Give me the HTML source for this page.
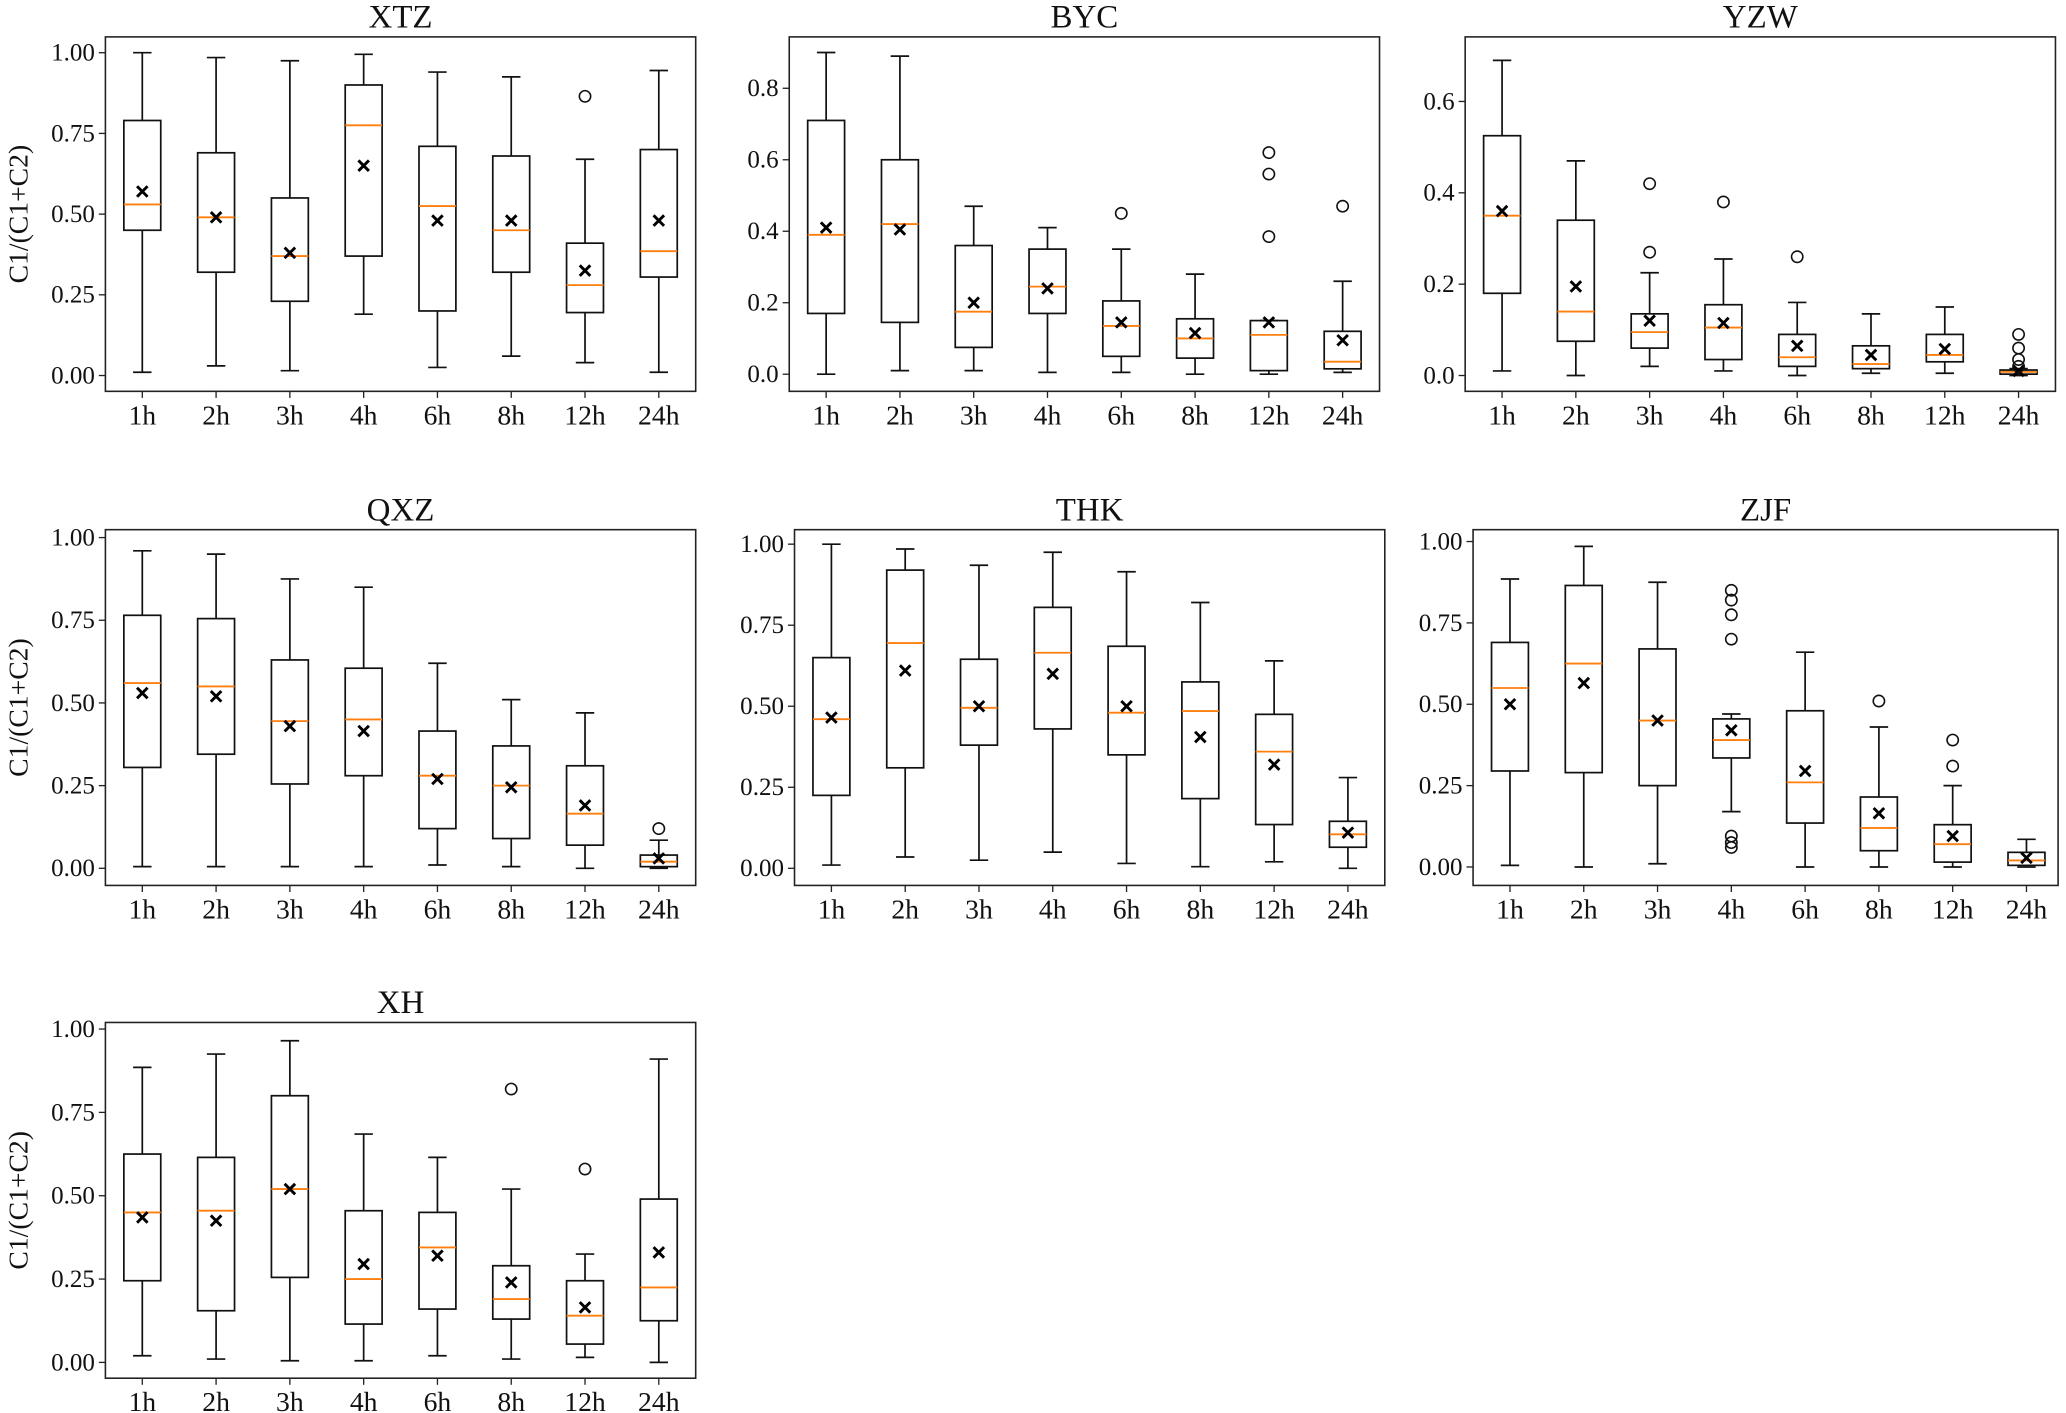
<!DOCTYPE html>
<html><head><meta charset="utf-8"><style>
html,body{margin:0;padding:0;background:#fff}
svg{display:block}
svg text{font-family:"Liberation Serif","DejaVu Serif",serif !important;fill:#111}
</style></head><body>
<svg id="fig" width="2066" height="1413" viewBox="0 0 1568 1072.4" preserveAspectRatio="none" xmlns="http://www.w3.org/2000/svg"></svg>
<script>
// categories
const categories = ["1h","2h","3h","4h","6h","8h","12h","24h"];
// stats per category: [whiskerLow, q1, median, q3, whiskerHigh, mean]
const xtzStats = [[0.01,0.45,0.53,0.79,1.00,0.57],[0.03,0.32,0.49,0.69,0.985,0.49],[0.015,0.23,0.37,0.55,0.975,0.38],[0.19,0.37,0.775,0.90,0.995,0.65],[0.025,0.20,0.525,0.71,0.94,0.48],[0.06,0.32,0.45,0.68,0.925,0.48],[0.04,0.195,0.28,0.41,0.67,0.325],[0.01,0.305,0.385,0.70,0.945,0.48]];
const xtzOutliers = [[],[],[],[],[],[],[0.865],[]];
const bycStats = [[0.0,0.17,0.39,0.71,0.90,0.41],[0.01,0.145,0.42,0.60,0.89,0.405],[0.01,0.075,0.175,0.36,0.47,0.20],[0.005,0.17,0.245,0.35,0.41,0.24],[0.005,0.05,0.135,0.205,0.35,0.145],[0.0,0.045,0.1,0.155,0.28,0.115],[0.0,0.01,0.11,0.15,0.15,0.145],[0.005,0.015,0.035,0.12,0.26,0.095]];
const bycOutliers = [[],[],[],[],[0.45],[],[0.385,0.56,0.62],[0.47]];
const yzwStats = [[0.01,0.18,0.35,0.525,0.69,0.36],[0.0,0.075,0.14,0.34,0.47,0.195],[0.02,0.06,0.095,0.135,0.225,0.12],[0.01,0.035,0.105,0.155,0.255,0.115],[0.0,0.02,0.04,0.09,0.16,0.065],[0.005,0.015,0.025,0.065,0.135,0.045],[0.005,0.03,0.045,0.09,0.15,0.058],[0.0,0.003,0.008,0.012,0.015,0.01]];
const yzwOutliers = [[],[],[0.27,0.42],[0.38],[0.26],[],[],[0.02,0.035,0.06,0.09]];
const qxzStats = [[0.005,0.305,0.56,0.765,0.96,0.53],[0.005,0.345,0.55,0.755,0.95,0.52],[0.005,0.255,0.445,0.63,0.875,0.43],[0.005,0.28,0.45,0.605,0.85,0.415],[0.01,0.12,0.28,0.415,0.62,0.27],[0.005,0.09,0.25,0.37,0.51,0.245],[0.0,0.07,0.165,0.31,0.47,0.19],[0.0,0.005,0.02,0.04,0.085,0.03]];
const qxzOutliers = [[],[],[],[],[],[],[],[0.12]];
const thkStats = [[0.01,0.225,0.46,0.65,1.0,0.465],[0.035,0.31,0.695,0.92,0.985,0.61],[0.025,0.38,0.495,0.645,0.935,0.50],[0.05,0.43,0.665,0.805,0.975,0.60],[0.015,0.35,0.48,0.685,0.915,0.50],[0.005,0.215,0.485,0.575,0.82,0.405],[0.02,0.135,0.36,0.475,0.64,0.32],[0.0,0.065,0.105,0.145,0.28,0.11]];
const thkOutliers = [[],[],[],[],[],[],[],[]];
const zjfStats = [[0.005,0.295,0.55,0.69,0.885,0.50],[0.0,0.29,0.625,0.865,0.985,0.565],[0.01,0.25,0.45,0.67,0.875,0.45],[0.17,0.335,0.39,0.455,0.47,0.42],[0.0,0.135,0.26,0.48,0.66,0.295],[0.0,0.05,0.12,0.215,0.43,0.165],[0.0,0.015,0.07,0.13,0.25,0.095],[0.0,0.005,0.02,0.045,0.085,0.028]];
const zjfOutliers = [[],[],[],[0.06,0.075,0.095,0.70,0.775,0.82,0.85],[],[0.51],[0.31,0.39],[]];
const xhStats = [[0.02,0.245,0.45,0.625,0.885,0.435],[0.01,0.155,0.455,0.615,0.925,0.425],[0.005,0.255,0.52,0.80,0.965,0.52],[0.005,0.115,0.25,0.455,0.685,0.295],[0.02,0.16,0.345,0.45,0.615,0.32],[0.01,0.13,0.19,0.29,0.52,0.24],[0.015,0.055,0.14,0.245,0.325,0.165],[0.0,0.125,0.225,0.49,0.91,0.33]];
const xhOutliers = [[],[],[],[],[],[0.82],[0.58],[]];
// tick labels
const ticks100 = ["0.00","0.25","0.50","0.75","1.00"];
const ticks08 = ["0.0","0.2","0.4","0.6","0.8"];
const ticks06 = ["0.0","0.2","0.4","0.6"];

const NS="http://www.w3.org/2000/svg";
const svg=document.getElementById('fig');
const FONT='"Liberation Serif", serif';
function mk(tag,attrs,parent){const e=document.createElementNS(NS,tag);for(const k in attrs)e.setAttribute(k,attrs[k]);if(tag==='text')e.setAttribute('font-family',FONT);(parent||svg).appendChild(e);return e;}

const panels=[
 {key:"xtz",title:"XTZ",stats:xtzStats,out:xtzOutliers,ticks:ticks100,ax:[80,28,528,297],x0:108,y0:285,y1:40,v1:1.0,ylab:true},
 {key:"byc",title:"BYC",stats:bycStats,out:bycOutliers,ticks:ticks08,ax:[599,28,1047,297],x0:627,y0:284,y1:67,v1:0.8},
 {key:"yzw",title:"YZW",stats:yzwStats,out:yzwOutliers,ticks:ticks06,ax:[1112,28,1560,297],x0:1140,y0:285,y1:77,v1:0.6},
 {key:"qxz",title:"QXZ",stats:qxzStats,out:qxzOutliers,ticks:ticks100,ax:[80,402,528,672],x0:108,y0:659,y1:408,v1:1.0,ylab:true},
 {key:"thk",title:"THK",stats:thkStats,out:thkOutliers,ticks:ticks100,ax:[603,402,1051,672],x0:631,y0:659,y1:413,v1:1.0},
 {key:"zjf",title:"ZJF",stats:zjfStats,out:zjfOutliers,ticks:ticks100,ax:[1118,402,1562,672],x0:1146,y0:658,y1:411,v1:1.0},
 {key:"xh",title:"XH",stats:xhStats,out:xhOutliers,ticks:ticks100,ax:[80,776,528,1046],x0:108,y0:1034,y1:781,v1:1.0,ylab:true}
];

panels.forEach(p=>{
  const g=mk('g',{});
  
  
  const [L,T,R,B]=p.ax;
  const yS=v=>p.y0-(v/p.v1)*(p.y0-p.y1);
  const xS=i=>p.x0+i*56;
  const t=mk('text',{x:(L+R)/2,y:T-7,'text-anchor':'middle','font-size':25},g);
  t.textContent=p.title;
  
  
  const frame=mk('rect',{x:L,y:T,width:R-L,height:B-T,fill:'none',stroke:'#222','stroke-width':1.2},g);
  
  
  const n=p.ticks.length;
  p.ticks.forEach((lab,k)=>{
    const v=p.v1*k/(n-1);
    const y=yS(v);
    mk('line',{x1:L-5,x2:L,y1:y,y2:y,stroke:'#222','stroke-width':1},g);
    const tl=mk('text',{x:L-8,y:y+6,'text-anchor':'end','font-size':19},g);
    tl.textContent=lab;
    
    
  });
  categories.forEach((c,i)=>{
    const x=xS(i);
    mk('line',{x1:x,x2:x,y1:B,y2:B+5,stroke:'#222','stroke-width':1},g);
    const tl=mk('text',{x:x,y:B+25,'text-anchor':'middle','font-size':21},g);
    tl.textContent=c;
    
    
    const s=p.stats[i];
    const bg=mk('g',{},g);
    
    
    const st={stroke:'#111','stroke-width':1.3};
    mk('line',Object.assign({x1:x,x2:x,y1:yS(s[0]),y2:yS(s[1])},st),bg);
    mk('line',Object.assign({x1:x,x2:x,y1:yS(s[3]),y2:yS(s[4])},st),bg);
    mk('line',Object.assign({x1:x-7,x2:x+7,y1:yS(s[0]),y2:yS(s[0])},st),bg);
    mk('line',Object.assign({x1:x-7,x2:x+7,y1:yS(s[4]),y2:yS(s[4])},st),bg);
    mk('rect',Object.assign({x:x-14,y:yS(s[3]),width:28,height:Math.max(0.5,yS(s[1])-yS(s[3])),fill:'none'},st),bg);
    mk('line',{x1:x-14,x2:x+14,y1:yS(s[2]),y2:yS(s[2]),stroke:'#ff7f0e','stroke-width':1.4},bg);
    const my=yS(s[5]);
    mk('path',{d:`M${x-4},${my-4}L${x+4},${my+4}M${x-4},${my+4}L${x+4},${my-4}`,stroke:'#000','stroke-width':2.2},bg);
    p.out[i].forEach(o=>{
      const oc=mk('circle',{cx:x,cy:yS(o),r:4.3,fill:'none',stroke:'#111','stroke-width':1.2},bg);
      
      
    });
  });
  if(p.ylab){
    const cy=(T+B)/2;
    const yl=mk('text',{x:14,y:cy,'text-anchor':'middle','font-size':21,transform:`rotate(-90 14 ${cy}) translate(0 7)`},g);
    yl.textContent="C1/(C1+C2)";
    
    
  }
});
</script>
</body></html>
